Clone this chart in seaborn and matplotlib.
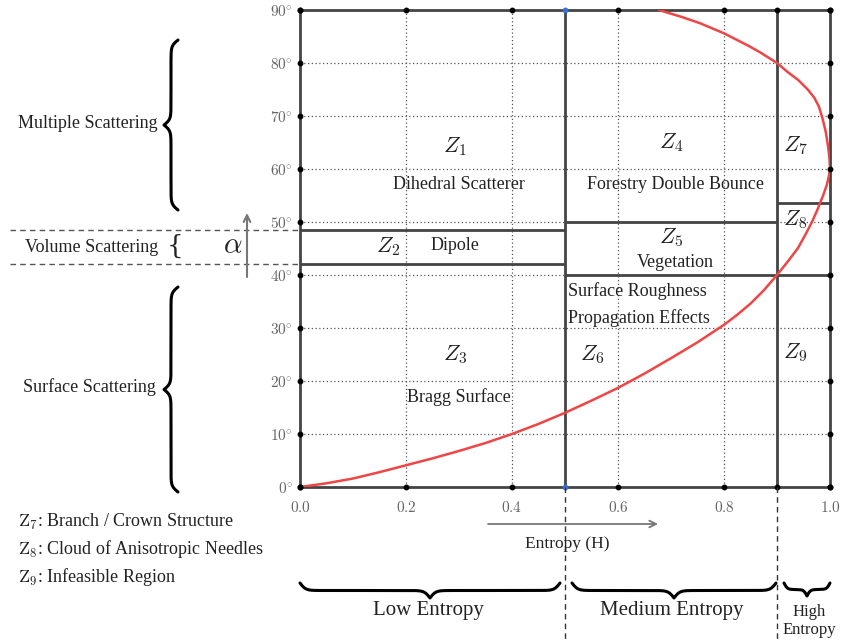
import numpy as np
import matplotlib
matplotlib.use("Agg")
import matplotlib.pyplot as plt
import matplotlib.transforms as mtransforms
import seaborn as sns
import pandas as pd

# ---------------- data ----------------
boundary_H = [0.0, 0.05, 0.1, 0.15, 0.2, 0.25, 0.3, 0.35, 0.4, 0.45, 0.5, 0.55,
              0.6, 0.65, 0.7, 0.75, 0.8, 0.825, 0.85, 0.875, 0.9, 0.92,
              0.939, 0.953, 0.966, 0.977, 0.987, 0.994, 0.998, 1.0, 0.999, 0.996,
              0.992, 0.986, 0.979, 0.97, 0.958, 0.94, 0.92, 0.9, 0.87, 0.847,
              0.8, 0.755, 0.72, 0.70, 0.677]
boundary_alpha = [0.0, 0.7, 1.6, 2.8, 4.1, 5.4, 6.8, 8.3, 10.0, 11.9, 14.0, 16.3,
                  18.7, 21.4, 24.3, 27.3, 30.6, 32.5, 34.6, 37.1, 40.0, 42.5,
                  45.0, 47.5, 50.0, 52.5, 55.0, 57.0, 58.7, 60.0, 62.0, 64.5,
                  67.0, 69.5, 71.8, 73.5, 75.0, 76.8, 78.3, 80.0, 81.9, 83.2,
                  85.6, 87.5, 88.7, 89.3, 90.0]

entropy_splits = [0.5, 0.9]
low_H_alpha_bounds = [42.0, 48.5]
mid_H_alpha_bounds = [40.0, 50.0]
high_H_alpha_bounds = [40.0, 53.5]

zone_names = ["$Z_1$", "$Z_2$", "$Z_3$", "$Z_4$", "$Z_5$", "$Z_6$", "$Z_7$", "$Z_8$", "$Z_9$"]
zone_H = [0.292, 0.166, 0.292, 0.70, 0.70, 0.551, 0.934, 0.934, 0.934]
zone_alpha = [64.2, 45.3, 24.9, 65.0, 47.0, 24.9, 64.5, 50.4, 25.3]

desc_texts = ["Dihedral Scatterer", "Dipole", "Bragg Surface",
              "Forestry Double Bounce", "Vegetation"]
desc_H = [0.30, 0.292, 0.30, 0.708, 0.708]
desc_alpha = [57.0, 45.5, 17.0, 57.0, 42.3]

z6_texts = ["Surface Roughness", "Propagation Effects"]
z6_alpha = [37.0, 31.9]

x_ticks = [0.0, 0.2, 0.4, 0.6, 0.8, 1.0]
x_tick_labels = ["$0.0$", "$0.2$", "$0.4$", "$0.6$", "$0.8$", "$1.0$"]
y_ticks = [0, 10, 20, 30, 40, 50, 60, 70, 80, 90]
y_tick_labels = [r"$%d^{\circ}$" % v for v in y_ticks]

mechanisms = ["Multiple Scattering", "Volume Scattering", "Surface Scattering"]
legend_lines = [r"$\mathrm{Z}_7$: Branch / Crown Structure",
                r"$\mathrm{Z}_8$: Cloud of Anisotropic Needles",
                r"$\mathrm{Z}_9$: Infeasible Region"]
entropy_classes = ["Low Entropy", "Medium Entropy", "High\nEntropy"]

# ---------------- style ----------------
sns.set_theme(style="white")
plt.rcParams["font.family"] = ["Liberation Serif", "DejaVu Serif"]
plt.rcParams["mathtext.fontset"] = "cm"

W, H = 843, 643
fig = plt.figure(figsize=(W / 100, H / 100), dpi=100)
fig.patch.set_facecolor("white")

ax_l, ax_r, ax_t, ax_b = 300, 830, 10, 487
ax = fig.add_axes([ax_l / W, 1 - ax_b / H, (ax_r - ax_l) / W, (ax_b - ax_t) / H])
ax.set_xlim(0, 1)
ax.set_ylim(0, 90)

# overlay in pixel coordinates for annotations
ov = fig.add_axes([0, 0, 1, 1], zorder=5)
ov.set_xlim(0, W)
ov.set_ylim(H, 0)
ov.axis("off")
ov.patch.set_alpha(0)

frame_c = "#444444"
# grid
for v in x_ticks[1:-1]:
    ax.axvline(v, color="#555555", lw=0.9, ls=(0, (1, 2)), zorder=1)
for v in y_ticks[1:-1]:
    ax.axhline(v, color="#555555", lw=0.9, ls=(0, (1, 2)), zorder=1)

for s in ax.spines.values():
    s.set_color(frame_c)
    s.set_linewidth(2)
    s.set_visible(True)

# zone boundaries
for v in entropy_splits:
    ax.axvline(v, color=frame_c, lw=2, zorder=2)
ax.hlines(low_H_alpha_bounds, 0, entropy_splits[0], color=frame_c, lw=2, zorder=2)
ax.hlines(mid_H_alpha_bounds, entropy_splits[0], entropy_splits[1], color=frame_c, lw=2, zorder=2)
ax.hlines(high_H_alpha_bounds, entropy_splits[1], 1.0, color=frame_c, lw=2, zorder=2)

# boundary curve
df = pd.DataFrame({"H": boundary_H, "alpha": boundary_alpha})
sns.lineplot(data=df, x="H", y="alpha", sort=False, estimator=None, ax=ax,
             color="#f04545", lw=1.8, zorder=4)
ax.lines[-1].set_solid_joinstyle("round")

# spine dots
dot_x = sorted(set(x_ticks + entropy_splits))
for xv in dot_x:
    c = "#3a6fd8" if xv == 0.5 else "black"
    ax.plot([xv, xv], [0, 90], ls="none", marker="o", ms=3.2, color=c, clip_on=False, zorder=6)
for yv in y_ticks:
    ax.plot([0, 1], [yv, yv], ls="none", marker="o", ms=3.2, color="black", clip_on=False, zorder=6)

ax.set_xticks(x_ticks)
ax.set_xticklabels(x_tick_labels)
ax.set_yticks(y_ticks)
ax.set_yticklabels(y_tick_labels)
ax.tick_params(axis="both", length=0, labelsize=11, labelcolor="#666666")
ax.tick_params(axis="x", pad=9)
ax.tick_params(axis="y", pad=5)
ax.set_xlabel("")
ax.set_ylabel("")

# zone labels
for name, hx, ay in zip(zone_names, zone_H, zone_alpha):
    ax.text(hx, ay, name, ha="center", va="center", fontsize=16, color="#222222", zorder=7)
for t, hx, ay in zip(desc_texts, desc_H, desc_alpha):
    ax.text(hx, ay, t, ha="center", va="center", fontsize=13, color="#222222", zorder=7)
for t, ay in zip(z6_texts, z6_alpha):
    ax.text(0.506, ay, t, ha="left", va="center", fontsize=13, color="#222222", zorder=7)

# ---------------- annotations in pixel space ----------------
def half_brace(n, span, beta):
    t = np.linspace(0, span / 2, n)
    f = 1 / (1 + np.exp(-beta * (t - t[0]))) + 1 / (1 + np.exp(-beta * (t - t[-1])))
    return t, f

def vbrace(x_end, y0, y1, depth, beta=0.35, lw=2.2):
    span = y1 - y0
    t, f = half_brace(200, span, beta)
    ys = np.concatenate([y0 + t, y1 - t[::-1][1:]])
    fs = np.concatenate([f, f[::-1][1:]])
    xs = x_end - (fs - 0.5) * depth
    ov.plot(xs, ys, color="black", lw=lw, solid_capstyle="round")

def hbrace(x0, x1, y_end, depth, beta=0.35, lw=2.2):
    span = x1 - x0
    t, f = half_brace(200, span, beta)
    xs = np.concatenate([x0 + t, x1 - t[::-1][1:]])
    fs = np.concatenate([f, f[::-1][1:]])
    ys = y_end + (fs - 0.5) * depth
    ov.plot(xs, ys, color="black", lw=lw, solid_capstyle="round")

# left mechanism labels and braces
vbrace(178, 40, 210, 14)
vbrace(178, 287, 492, 14)
ov.text(158, 124, mechanisms[0], ha="right", va="center", fontsize=13, color="#222222")
ov.text(158, 247, mechanisms[1], ha="right", va="center", fontsize=13, color="#222222")
ov.text(156, 387, mechanisms[2], ha="right", va="center", fontsize=13, color="#222222")
ov.text(175, 246, "{", ha="center", va="center", fontsize=19, color="#222222",
        family="DejaVu Serif", fontweight="light")

# dashed guide lines for the volume band
blend_y = mtransforms.blended_transform_factory(ov.transData, ax.transData)
for v in low_H_alpha_bounds:
    ov.plot([10, ax_l], [v, v], transform=blend_y, color="#555555", lw=1, ls=(0, (4, 3)), clip_on=False)

# alpha arrow
ov.annotate("", xy=(247, 213), xytext=(247, 277),
            arrowprops=dict(arrowstyle="->", color="#777777", lw=1.5, shrinkA=0, shrinkB=0))
ov.text(233, 246, r"$\alpha$", ha="center", va="center", fontsize=21, color="#222222")

# entropy arrow and label
ov.annotate("", xy=(658, 524), xytext=(488, 524),
            arrowprops=dict(arrowstyle="->", color="#777777", lw=1.3, shrinkA=0, shrinkB=0))
ov.text(567, 544, "Entropy (H)", ha="center", va="center", fontsize=12.5, color="#222222")

# vertical dashed lines below the axes at the entropy splits
blend_x = mtransforms.blended_transform_factory(ax.transData, ov.transData)
for v in entropy_splits:
    ov.plot([v, v], [ax_b, H], transform=blend_x, color="#333333", lw=1, ls=(0, (4, 3)), clip_on=False)

# legend lines
for i, t in enumerate(legend_lines):
    ov.text(18, 522 + 27.5 * i, t, ha="left", va="center", fontsize=13, color="#222222")

# bottom braces
hbrace(300, 560, 583, 15)
hbrace(572, 776, 583, 15)
hbrace(784, 830, 583, 13, beta=0.6)
ov.text(428, 611, entropy_classes[0], ha="center", va="center", fontsize=15, color="#222222")
ov.text(672, 611, entropy_classes[1], ha="center", va="center", fontsize=15, color="#222222")
ov.text(809, 621, entropy_classes[2], ha="center", va="center", fontsize=12,
        color="#222222", linespacing=1.1)

fig.savefig("out.png", dpi=100, facecolor="white")
